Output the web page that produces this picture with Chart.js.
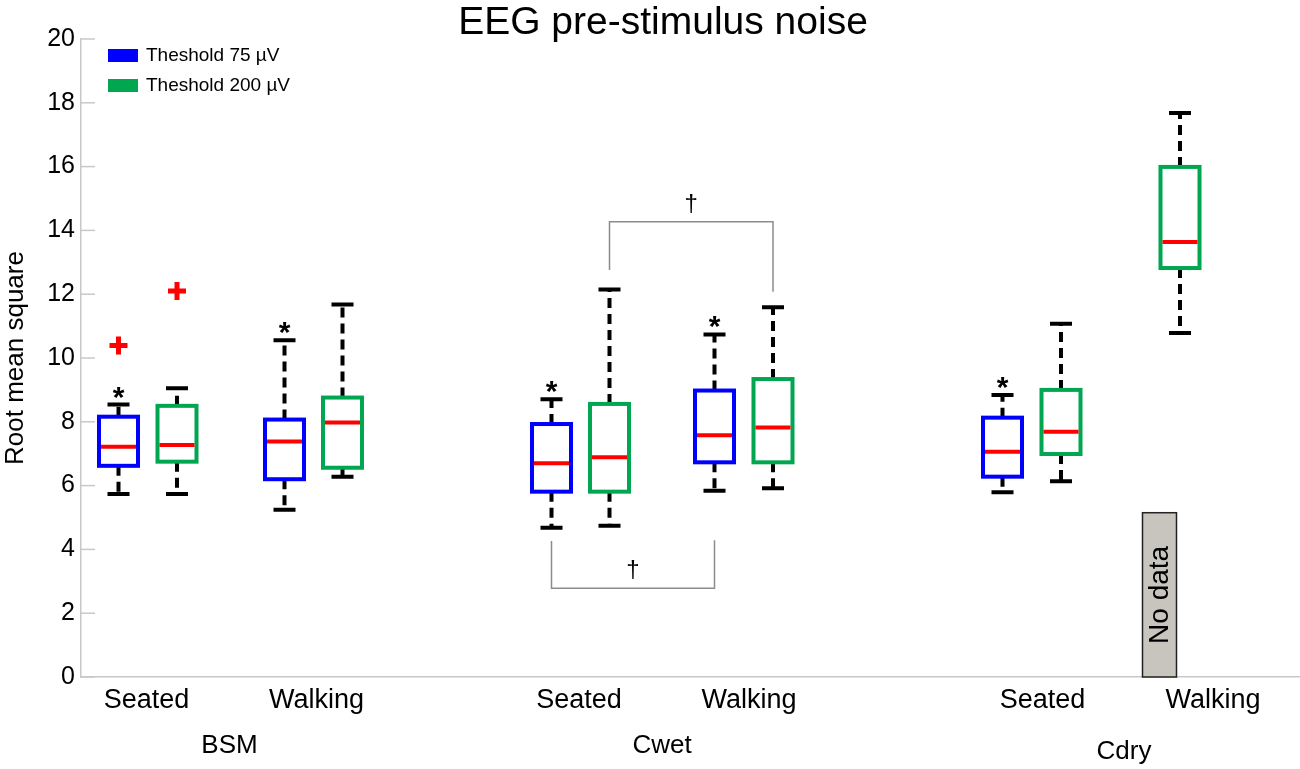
<!DOCTYPE html>
<html>
<head>
<meta charset="utf-8">
<title>EEG pre-stimulus noise</title>
<script src="https://cdn.jsdelivr.net/npm/chart.js@4.4.1/dist/chart.umd.min.js"></script>
<style>
  html, body { margin: 0; padding: 0; background: #fff; }
</style>
</head>
<body>
<canvas id="rmsChart" width="1300" height="769"></canvas>
<script>
const FONT = "'Liberation Sans', Arial, sans-serif";

// x axis categories (position on a linear x axis, in slots)
const tickLabels = ['Seated', 'Walking', 'Seated', 'Walking', 'Seated', 'Walking'];
const tickPos = [0.655, 2.355, 4.98, 6.68, 9.615, 11.32];
const groups = ['BSM', 'Cwet', 'Cdry'];
const groupPos = [1.485, 5.81, 10.43];

const seriesNames = ['Theshold 75 µV', 'Theshold 200 µV'];
const seriesColors = ['#0000ff', '#00a650'];

// Theshold 75 µV  (BSM S, BSM W, Cwet S, Cwet W, Cdry S, Cdry W)
const pos75 = [0.375, 2.035, 4.705, 6.335, 9.215, null];
const min75 = [5.74, 5.24, 4.68, 5.84, 5.79, null];
const q1_75 = [6.62, 6.20, 5.81, 6.73, 6.28, null];
const med75 = [7.22, 7.38, 6.70, 7.58, 7.06, null];
const q3_75 = [8.16, 8.07, 7.93, 8.98, 8.13, null];
const max75 = [8.54, 10.56, 8.71, 10.74, 8.84, null];
const out75 = [[10.39], [], [], [], [], []];
const sig75 = ['*', '*', '*', '*', '*', null];

// Theshold 200 µV
const pos200 = [0.96, 2.615, 5.285, 6.92, 9.80, 10.99];
const min200 = [5.74, 6.28, 4.74, 5.92, 6.14, 10.78];
const q1_200 = [6.75, 6.56, 5.81, 6.73, 6.99, 12.82];
const med200 = [7.27, 7.98, 6.89, 7.82, 7.69, 13.64];
const q3_200 = [8.50, 8.76, 8.56, 9.34, 9.00, 15.99];
const max200 = [9.05, 11.68, 12.15, 11.59, 11.07, 17.68];
const out200 = [[12.10], [], [], [], [], []];
const sig200 = [null, null, null, null, null, null];

// Cdry walking at 75 µV has no data
const noDataPos = 10.785;
const noDataTop = 5.15;

// † comparisons
const bracketLevel = [14.27, 2.78];
const bracketLeftEnd = [12.76, 4.26];
const bracketRightEnd = [12.08, 4.29];
const bracketX1 = [pos200[2], pos75[2]];
const bracketX2 = [pos200[3], pos75[3]];

const yTicks = [0, 2, 4, 6, 8, 10, 12, 14, 16, 18, 20];

const series = [
    { color: seriesColors[0], pos: pos75, min: min75, q1: q1_75, med: med75, q3: q3_75, max: max75, sig: sig75 },
    { color: seriesColors[1], pos: pos200, min: min200, q1: q1_200, med: med200, q3: q3_200, max: max200, sig: sig200 }
];

const outlierPoints = (pos, outs) => outs.flatMap((list, i) => list.map(v => ({ x: pos[i], y: v })));

const boxPlot = {
    id: 'boxPlot',
    afterDatasetsDraw(chart) {
        const { ctx, chartArea, scales: { x, y } } = chart;
        const px = v => x.getPixelForValue(v);
        const py = v => y.getPixelForValue(v);
        const unit = px(1) - px(0);
        ctx.save();

        // inward tick marks on y axis
        ctx.strokeStyle = '#c8c8c8';
        ctx.lineWidth = 1.5;
        yTicks.forEach(t => {
            ctx.beginPath();
            ctx.moveTo(chartArea.left, py(t));
            ctx.lineTo(chartArea.left + 14, py(t));
            ctx.stroke();
        });

        // boxes
        series.forEach(s => {
            s.pos.forEach((p, i) => {
                if (p === null || s.q1[i] === null) return;
                const cx = px(p);
                const w = 0.39 * unit;
                const cap = 0.11 * unit;

                ctx.strokeStyle = '#000';
                ctx.lineWidth = 4;
                ctx.setLineDash([10, 6]);
                ctx.beginPath();
                ctx.moveTo(cx, py(s.q3[i]));
                ctx.lineTo(cx, py(s.max[i]));
                ctx.moveTo(cx, py(s.q1[i]));
                ctx.lineTo(cx, py(s.min[i]));
                ctx.stroke();
                ctx.setLineDash([]);
                ctx.beginPath();
                ctx.moveTo(cx - cap, py(s.max[i]));
                ctx.lineTo(cx + cap, py(s.max[i]));
                ctx.moveTo(cx - cap, py(s.min[i]));
                ctx.lineTo(cx + cap, py(s.min[i]));
                ctx.stroke();

                ctx.strokeStyle = s.color;
                ctx.strokeRect(cx - w / 2, py(s.q3[i]), w, py(s.q1[i]) - py(s.q3[i]));

                ctx.strokeStyle = '#ff0000';
                ctx.beginPath();
                ctx.moveTo(cx - w / 2 + 2, py(s.med[i]));
                ctx.lineTo(cx + w / 2 - 2, py(s.med[i]));
                ctx.stroke();

                if (s.sig[i]) {
                    ctx.fillStyle = '#000';
                    ctx.font = 'bold 30px ' + FONT;
                    ctx.textAlign = 'center';
                    ctx.textBaseline = 'alphabetic';
                    ctx.fillText(s.sig[i], cx, py(s.max[i]) + 2);
                }
            });
        });

        // no data bar
        const nx = px(noDataPos);
        const nw = 0.34 * unit;
        const ntop = py(noDataTop);
        const nbot = py(0);
        ctx.fillStyle = '#c7c5bd';
        ctx.fillRect(nx - nw / 2, ntop, nw, nbot - ntop);
        ctx.strokeStyle = '#222';
        ctx.lineWidth = 1.5;
        ctx.strokeRect(nx - nw / 2, ntop, nw, nbot - ntop);
        ctx.save();
        ctx.translate(nx, (ntop + nbot) / 2);
        ctx.rotate(-Math.PI / 2);
        ctx.fillStyle = '#000';
        ctx.font = '28px ' + FONT;
        ctx.textAlign = 'center';
        ctx.textBaseline = 'middle';
        ctx.fillText('No data', 0, 1);
        ctx.restore();

        // † brackets
        ctx.strokeStyle = '#8c8c8c';
        ctx.lineWidth = 1.5;
        bracketLevel.forEach((lv, i) => {
            const x1 = px(bracketX1[i]);
            const x2 = px(bracketX2[i]);
            ctx.beginPath();
            ctx.moveTo(x1, py(bracketLeftEnd[i]));
            ctx.lineTo(x1, py(lv));
            ctx.lineTo(x2, py(lv));
            ctx.lineTo(x2, py(bracketRightEnd[i]));
            ctx.stroke();
            ctx.fillStyle = '#000';
            ctx.font = '24px ' + FONT;
            ctx.textAlign = 'center';
            ctx.textBaseline = 'alphabetic';
            ctx.fillText('†', (x1 + x2) / 2, py(lv) - 11);
        });

        // category labels under the axis
        ctx.fillStyle = '#000';
        ctx.textAlign = 'center';
        ctx.textBaseline = 'alphabetic';
        ctx.font = '27px ' + FONT;
        tickLabels.forEach((t, i) => {
            ctx.fillText(t, px(tickPos[i]), chartArea.bottom + 31);
        });
        ctx.font = '26px ' + FONT;
        groups.forEach((g, i) => {
            ctx.fillText(g, px(groupPos[i]), chartArea.bottom + (i === 2 ? 82 : 76));
        });

        // legend
        ctx.font = '19px ' + FONT;
        ctx.textAlign = 'left';
        ctx.textBaseline = 'middle';
        seriesNames.forEach((name, i) => {
            const ly = chartArea.top + 10 + i * 30;
            ctx.fillStyle = seriesColors[i];
            ctx.fillRect(chartArea.left + 27, ly, 30, 13);
            ctx.fillStyle = '#000';
            ctx.fillText(name, chartArea.left + 65, ly + 7);
        });

        // title
        ctx.font = '39px ' + FONT;
        ctx.textAlign = 'center';
        ctx.textBaseline = 'alphabetic';
        ctx.fillText('EEG pre-stimulus noise', 663, 34);

        ctx.restore();
    }
};

new Chart(document.getElementById('rmsChart'), {
    type: 'scatter',
    data: {
        datasets: [
            {
                label: seriesNames[0] + ' outliers',
                data: outlierPoints(pos75, out75),
                pointStyle: 'cross',
                radius: 9,
                borderWidth: 5,
                borderColor: '#ff0000'
            },
            {
                label: seriesNames[1] + ' outliers',
                data: outlierPoints(pos200, out200),
                pointStyle: 'cross',
                radius: 9,
                borderWidth: 5,
                borderColor: '#ff0000'
            }
        ]
    },
    options: {
        responsive: false,
        animation: false,
        layout: { autoPadding: false, padding: { top: 39, left: 0, right: 0, bottom: 0 } },
        plugins: {
            legend: { display: false },
            title: { display: false },
            tooltip: { enabled: false }
        },
        scales: {
            x: {
                type: 'linear',
                min: 0,
                max: 12.19,
                grid: { display: false, drawTicks: false },
                border: { display: true, color: '#c8c8c8', width: 1.5 },
                afterFit: scale => { scale.height = 92; },
                ticks: { display: false }
            },
            y: {
                min: 0,
                max: 20,
                grid: { display: false, drawTicks: false },
                border: { display: true, color: '#c8c8c8', width: 1.5 },
                afterFit: scale => { scale.width = 81; },
                ticks: {
                    stepSize: 2,
                    padding: 6,
                    color: '#000',
                    font: { family: FONT, size: 25 }
                },
                title: {
                    display: true,
                    text: 'Root mean square',
                    color: '#000',
                    padding: 0,
                    font: { family: FONT, size: 26 }
                }
            }
        }
    },
    plugins: [boxPlot]
});
</script>
</body>
</html>
